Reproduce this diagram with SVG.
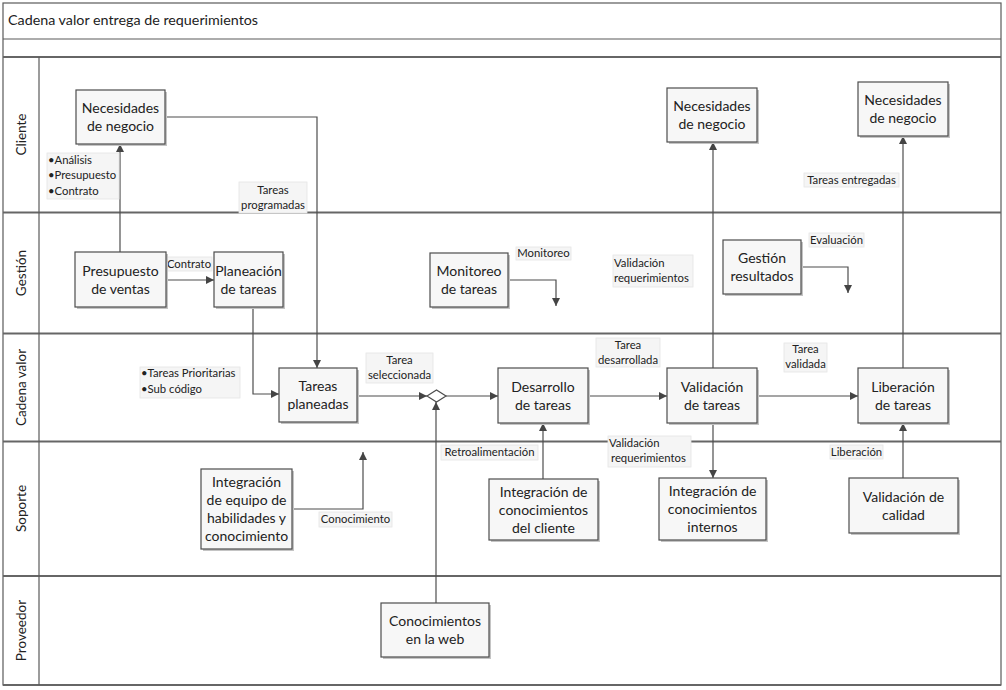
<svg xmlns="http://www.w3.org/2000/svg" width="1006" height="690" viewBox="0 0 1006 690">
<style>
.frame{fill:none;stroke:#5a5a5a;stroke-width:1.2}
.lane{stroke:#666;stroke-width:1.8;fill:none}
.sh{fill:#c4c4c4}
.box{fill:#f7f7f7;stroke:#4d4d4d;stroke-width:1.2}
.nt{font-family:Lato,"Liberation Sans",sans-serif;font-size:14px;fill:#222;text-anchor:middle}
.lb{fill:#f5f5f5;stroke:#e4e4e4;stroke-width:0.8}
.lt{font-family:Lato,"Liberation Sans",sans-serif;font-size:11.3px;fill:#222;text-anchor:middle}
.ll{font-family:Lato,"Liberation Sans",sans-serif;font-size:11.3px;fill:#222}
.lane-t{font-family:Lato,"Liberation Sans",sans-serif;font-size:13.5px;fill:#222;text-anchor:middle}
.c{fill:none;stroke:#4d4d4d;stroke-width:1.2}
</style>
<defs>
<marker id="ah" viewBox="0 0 10 10" refX="10" refY="5" markerWidth="8" markerHeight="8" markerUnits="userSpaceOnUse" orient="auto">
<path d="M0,0 L10,5 L0,10 z" fill="#444"/>
</marker>
</defs>
<rect width="1006" height="690" fill="#fff"/>
<g id="pool">
<rect class="frame" x="3" y="3" width="998" height="682"/>
<line class="frame" x1="3" y1="39" x2="1001" y2="39"/>
<line class="lane" x1="3" y1="57" x2="1001" y2="57"/>
<line class="lane" x1="3" y1="212.5" x2="1001" y2="212.5"/>
<line class="lane" x1="3" y1="333.5" x2="1001" y2="333.5"/>
<line class="lane" x1="3" y1="441.5" x2="1001" y2="441.5"/>
<line class="lane" x1="3" y1="576" x2="1001" y2="576"/>
<line class="lane" x1="3" y1="685" x2="1001" y2="685"/>
<line class="frame" x1="39" y1="57" x2="39" y2="685"/>
<text x="8" y="25" font-family="Lato,'Liberation Sans',sans-serif" font-size="14.3" fill="#222">Cadena valor entrega de requerimientos</text>
<text class="lane-t" transform="translate(26,134.5) rotate(-90)">Cliente</text>
<text class="lane-t" transform="translate(26,273) rotate(-90)">Gestión</text>
<text class="lane-t" transform="translate(26,387.5) rotate(-90)">Cadena valor</text>
<text class="lane-t" transform="translate(26,508.5) rotate(-90)">Soporte</text>
<text class="lane-t" transform="translate(26,630.5) rotate(-90)">Proveedor</text>
</g>
<g id="connectors">
<polyline class="c" points="165,117 317,117 317,368" marker-end="url(#ah)"/>
<line class="c" x1="120" y1="252" x2="120" y2="144" marker-end="url(#ah)"/>
<line class="c" x1="166" y1="280" x2="214" y2="280" marker-end="url(#ah)"/>
<polyline class="c" points="253,307 253,394 279,394" marker-end="url(#ah)"/>
<polyline class="c" points="508,280 556,280 556,306" marker-end="url(#ah)"/>
<line class="c" x1="357" y1="396" x2="427" y2="396" marker-end="url(#ah)"/>
<line class="c" x1="446" y1="396" x2="498" y2="396" marker-end="url(#ah)"/>
<line class="c" x1="436" y1="603" x2="436" y2="402" marker-end="url(#ah)"/>
<line class="c" x1="588" y1="396" x2="667" y2="396" marker-end="url(#ah)"/>
<line class="c" x1="757" y1="396" x2="858" y2="396" marker-end="url(#ah)"/>
<line class="c" x1="713" y1="368" x2="713" y2="142" marker-end="url(#ah)"/>
<line class="c" x1="903" y1="368" x2="903" y2="136" marker-end="url(#ah)"/>
<polyline class="c" points="801,267 848,267 848,293" marker-end="url(#ah)"/>
<polyline class="c" points="292,509 363,509 363,452" marker-end="url(#ah)"/>
<line class="c" x1="543" y1="479" x2="543" y2="423" marker-end="url(#ah)"/>
<line class="c" x1="713" y1="423" x2="713" y2="478" marker-end="url(#ah)"/>
<line class="c" x1="903" y1="478" x2="903" y2="423" marker-end="url(#ah)"/>
</g>
<g id="labels">
<g id="lbl-bullets1"><rect class="lb" x="47" y="153" width="72" height="46"/>
<text class="ll" x="48" y="164">•Análisis</text><text class="ll" x="48" y="179">•Presupuesto</text><text class="ll" x="48" y="195">•Contrato</text></g>
<g id="lbl-tareas-prog"><rect class="lb" x="239" y="182" width="68" height="31"/>
<text class="lt" x="273" y="194">Tareas</text><text class="lt" x="273" y="209">programadas</text></g>
<g id="lbl-contrato"><rect class="lb" x="166" y="257" width="46" height="14"/>
<text class="lt" x="189" y="268">Contrato</text></g>
<g id="lbl-monitoreo"><rect class="lb" x="516" y="247" width="55" height="13"/>
<text class="lt" x="543.5" y="257">Monitoreo</text></g>
<g id="lbl-valreq1"><rect class="lb" x="613" y="255" width="80" height="32"/>
<text class="ll" x="614" y="267">Validación</text><text class="ll" x="614" y="282">requerimientos</text></g>
<g id="lbl-bullets2"><rect class="lb" x="140" y="367" width="100" height="31"/>
<text class="ll" x="141" y="377">•Tareas Prioritarias</text><text class="ll" x="141" y="393">•Sub código</text></g>
<g id="lbl-tarea-sel"><rect class="lb" x="366" y="353" width="67" height="30"/>
<text class="lt" x="399.5" y="364">Tarea</text><text class="lt" x="399.5" y="379">seleccionada</text></g>
<g id="lbl-tarea-des"><rect class="lb" x="596" y="338" width="64" height="29"/>
<text class="lt" x="628" y="349">Tarea</text><text class="lt" x="628" y="364">desarrollada</text></g>
<g id="lbl-tarea-val"><rect class="lb" x="784" y="343" width="43" height="29"/>
<text class="lt" x="805.5" y="353">Tarea</text><text class="lt" x="805.5" y="368">validada</text></g>
<g id="lbl-entregadas"><rect class="lb" x="804" y="173" width="95" height="14"/>
<text class="lt" x="851.5" y="184">Tareas entregadas</text></g>
<g id="lbl-evaluacion"><rect class="lb" x="809" y="233" width="55" height="14"/>
<text class="lt" x="836.5" y="244">Evaluación</text></g>
<g id="lbl-retro"><rect class="lb" x="441" y="445" width="97" height="15"/>
<text class="lt" x="489.5" y="456">Retroalimentación</text></g>
<g id="lbl-conoc"><rect class="lb" x="319" y="512" width="73" height="15"/>
<text class="lt" x="355.5" y="523">Conocimiento</text></g>
<g id="lbl-valreq2"><rect class="lb" x="608" y="436" width="83" height="31"/>
<text class="ll" x="609" y="447">Validación</text><text class="ll" x="611" y="462">requerimientos</text></g>
<g id="lbl-liberacion"><rect class="lb" x="830" y="445" width="53" height="14"/>
<text class="lt" x="856.5" y="456">Liberación</text></g>
</g>
<g id="n-necesidades1"><rect class="sh" x="78" y="92" width="89" height="54"/><rect class="box" x="76" y="90" width="89" height="54"/>
<text class="nt" x="120.5" y="113">Necesidades</text><text class="nt" x="120.5" y="131">de negocio</text></g>
<g id="n-necesidades2"><rect class="sh" x="669" y="90" width="90" height="54"/><rect class="box" x="667" y="88" width="90" height="54"/>
<text class="nt" x="712" y="111">Necesidades</text><text class="nt" x="712" y="129">de negocio</text></g>
<g id="n-necesidades3"><rect class="sh" x="860" y="84" width="90" height="54"/><rect class="box" x="858" y="82" width="90" height="54"/>
<text class="nt" x="903" y="105">Necesidades</text><text class="nt" x="903" y="123">de negocio</text></g>
<g id="n-presupuesto"><rect class="sh" x="77" y="254" width="91" height="55"/><rect class="box" x="75" y="252" width="91" height="55"/>
<text class="nt" x="120.5" y="275.5">Presupuesto</text><text class="nt" x="120.5" y="293.5">de ventas</text></g>
<g id="n-planeacion"><rect class="sh" x="216" y="254" width="69" height="55"/><rect class="box" x="214" y="252" width="69" height="55"/>
<text class="nt" x="248.5" y="275.5">Planeación</text><text class="nt" x="248.5" y="293.5">de tareas</text></g>
<g id="n-monitoreo"><rect class="sh" x="432" y="255" width="78" height="54"/><rect class="box" x="430" y="253" width="78" height="54"/>
<text class="nt" x="469" y="276">Monitoreo</text><text class="nt" x="469" y="294">de tareas</text></g>
<g id="n-gestion-res"><rect class="sh" x="725" y="242" width="78" height="54"/><rect class="box" x="723" y="240" width="78" height="54"/>
<text class="nt" x="762" y="263">Gestión</text><text class="nt" x="762" y="281">resultados</text></g>
<g id="n-tareas-plan"><rect class="sh" x="281" y="370" width="78" height="54"/><rect class="box" x="279" y="368" width="78" height="54"/>
<text class="nt" x="318" y="391">Tareas</text><text class="nt" x="318" y="409">planeadas</text></g>
<g id="n-gateway"><path d="M427,396 L436.5,390 L446,396 L436.5,402 Z" fill="#fff" stroke="#4d4d4d" stroke-width="1.2"/></g>
<g id="n-desarrollo"><rect class="sh" x="500" y="370" width="90" height="55"/><rect class="box" x="498" y="368" width="90" height="55"/>
<text class="nt" x="543" y="391.5">Desarrollo</text><text class="nt" x="543" y="409.5">de tareas</text></g>
<g id="n-validacion"><rect class="sh" x="669" y="370" width="90" height="55"/><rect class="box" x="667" y="368" width="90" height="55"/>
<text class="nt" x="712" y="391.5">Validación</text><text class="nt" x="712" y="409.5">de tareas</text></g>
<g id="n-liberacion"><rect class="sh" x="860" y="370" width="90" height="55"/><rect class="box" x="858" y="368" width="90" height="55"/>
<text class="nt" x="903" y="391.5">Liberación</text><text class="nt" x="903" y="409.5">de tareas</text></g>
<g id="n-integ-equipo"><rect class="sh" x="203" y="471" width="91" height="80"/><rect class="box" x="201" y="469" width="91" height="80"/>
<text class="nt" x="246.5" y="487">Integración</text><text class="nt" x="246.5" y="505">de equipo de</text><text class="nt" x="246.5" y="523">habilidades y</text><text class="nt" x="246.5" y="541">conocimiento</text></g>
<g id="n-integ-cliente"><rect class="sh" x="491" y="481" width="109" height="61"/><rect class="box" x="489" y="479" width="109" height="61"/>
<text class="nt" x="543.5" y="496.5">Integración de</text><text class="nt" x="543.5" y="514.5">conocimientos</text><text class="nt" x="543.5" y="532.5">del cliente</text></g>
<g id="n-integ-internos"><rect class="sh" x="661" y="480" width="107" height="62"/><rect class="box" x="659" y="478" width="107" height="62"/>
<text class="nt" x="712.5" y="496">Integración de</text><text class="nt" x="712.5" y="514">conocimientos</text><text class="nt" x="712.5" y="532">internos</text></g>
<g id="n-val-calidad"><rect class="sh" x="851" y="480" width="109" height="55"/><rect class="box" x="849" y="478" width="109" height="55"/>
<text class="nt" x="903.5" y="501.5">Validación de</text><text class="nt" x="903.5" y="519.5">calidad</text></g>
<g id="n-web"><rect class="sh" x="383" y="605" width="108" height="54"/><rect class="box" x="381" y="603" width="108" height="54"/>
<text class="nt" x="435" y="626">Conocimientos</text><text class="nt" x="435" y="644">en la web</text></g>
</svg>
